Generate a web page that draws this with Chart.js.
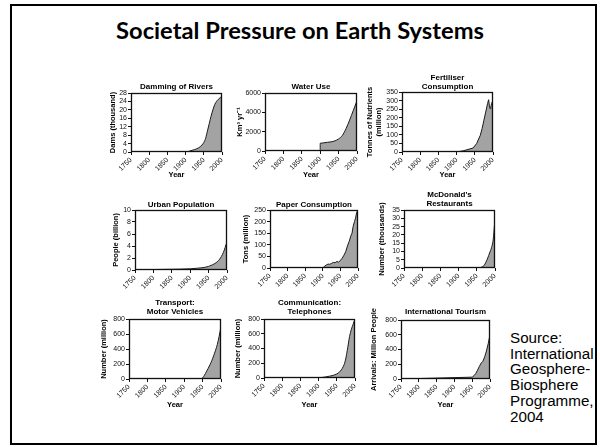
<!DOCTYPE html>
<html><head><meta charset="utf-8">
<script src="https://cdn.jsdelivr.net/npm/chart.js@4.4.1/dist/chart.umd.min.js"></script>
<style>
html,body{margin:0;padding:0;background:#fff;}
body{width:600px;height:447px;position:relative;overflow:hidden;font-family:'Liberation Sans',Arial,sans-serif;}
#frame{position:absolute;left:10px;top:4px;width:587px;height:441px;border:2px solid #000;box-sizing:border-box;}
#title{position:absolute;left:0;width:600px;text-align:center;font-family:Lato,'Open Sans',sans-serif;font-weight:700;color:#000;white-space:nowrap;line-height:1;}
#source{position:absolute;left:510px;top:330px;font-size:15.2px;line-height:15.7px;color:#000;font-family:'Liberation Sans',Arial,sans-serif;}
canvas{position:absolute;}
</style></head><body>
<div id="frame"></div>
<div id="title">Societal Pressure on Earth Systems</div>
<div id="source">Source:<br>International<br>Geosphere-<br>Biosphere<br>Programme,<br>2004</div>
<script>
// ---------- data ----------
const xTickYears = [1750, 1800, 1850, 1900, 1950, 2000];

const dammingYears  = [1750, 1900, 1910, 1920, 1930, 1940, 1950, 1955, 1960, 1965, 1970, 1975, 1980, 1985, 1990, 1995, 2000];
const dammingValues = [0, 0, 0.4, 0.9, 1.5, 2.5, 4.5, 6.5, 10, 13.5, 17, 20, 22.5, 24, 25, 25.8, 26.5];

const waterYears  = [1750, 1900, 1900, 1910, 1920, 1930, 1940, 1950, 1960, 1970, 1980, 1990, 2000];
const waterValues = [0, 0, 800, 850, 900, 950, 1050, 1250, 1600, 2300, 3200, 4200, 5200];

const fertYears  = [1750, 1900, 1920, 1945, 1955, 1965, 1970, 1975, 1980, 1985, 1988, 1990, 1992, 1994, 1996, 1998, 2000];
const fertValues = [0, 0, 8, 23, 49, 97, 136, 185, 233, 282, 305, 272, 253, 262, 282, 292, 263];

const urbanYears  = [1750, 1800, 1850, 1900, 1920, 1940, 1950, 1960, 1970, 1980, 1990, 2000];
const urbanValues = [0.05, 0.08, 0.12, 0.2, 0.3, 0.45, 0.6, 0.85, 1.2, 1.8, 2.9, 4.7];

const paperYears  = [1750, 1900, 1905, 1910, 1915, 1920, 1925, 1930, 1935, 1940, 1945, 1950, 1955, 1960, 1965, 1970, 1975, 1980, 1983, 1986, 1990, 1993, 1996, 2000];
const paperValues = [0, 0, 8, 13, 17, 16, 20, 24, 23, 28, 25, 33, 42, 55, 70, 95, 115, 140, 150, 178, 200, 215, 238, 250];

const mcdYears  = [1750, 1950, 1955, 1960, 1965, 1970, 1975, 1980, 1985, 1990, 1995, 2000];
const mcdValues = [0, 0, 0, 0.2, 0.7, 1.5, 3.5, 6, 9, 12, 17, 30];

const vehicleYears  = [1750, 1945, 1950, 1955, 1960, 1965, 1970, 1975, 1980, 1985, 1990, 1995, 2000];
const vehicleValues = [0, 0, 15, 50, 95, 140, 190, 245, 310, 380, 460, 570, 700];

const phoneYears  = [1750, 1880, 1890, 1900, 1910, 1920, 1930, 1940, 1950, 1955, 1960, 1965, 1970, 1975, 1980, 1985, 1990, 1995, 2000];
const phoneValues = [0, 0, 1, 3, 8, 15, 25, 35, 55, 70, 95, 130, 180, 270, 410, 560, 660, 730, 800];

const tourismYears  = [1750, 1950, 1955, 1960, 1965, 1970, 1975, 1980, 1985, 1990, 1995, 2000];
const tourismValues = [0, 25, 45, 75, 120, 170, 215, 240, 300, 380, 480, 600];

// ---------- panels (layout) ----------
const panels = [
  {title:['Damming of Rivers'], yTitle:'Dams (thousand)', years:dammingYears, values:dammingValues, yMax:28, yStep:4, smooth:true,
   plot:[131,93,222,152], titleY:87, yTitleX:113, yearY:175},
  {title:['Water Use'], yTitle:'Km\u00B3 yr\u207B\u00B9', years:waterYears, values:waterValues, yMax:6000, yStep:2000, smooth:true,
   plot:[265,93,357,151], titleY:87, yTitleX:240, yearY:175},
  {title:['Fertiliser','Consumption'], yTitle:['Tonnes of Nutrients','(million)'], years:fertYears, values:fertValues, yMax:350, yStep:50, smooth:false,
   plot:[402,92,493,152], titleY:78, yTitleX:370, yearY:175},
  {title:['Urban Population'], yTitle:'People (billion)', years:urbanYears, values:urbanValues, yMax:10, yStep:2, smooth:true,
   plot:[135,210,227,270], titleY:205, yTitleX:116, yearY:null},
  {title:['Paper Consumption'], yTitle:'Tons (million)', years:paperYears, values:paperValues, yMax:250, yStep:50, smooth:false,
   plot:[270,210,358,268], titleY:205, yTitleX:246, yearY:null},
  {title:["McDonald's",'Restaurants'], yTitle:'Number (thousands)', years:mcdYears, values:mcdValues, yMax:35, yStep:5, smooth:true,
   plot:[404,210,495,268], titleY:195, yTitleX:382, yearY:null},
  {title:['Transport:','Motor Vehicles'], yTitle:'Number (million)', years:vehicleYears, values:vehicleValues, yMax:800, yStep:200, smooth:true,
   plot:[129,319,221,379], titleY:303, yTitleX:104, yearY:405},
  {title:['Communication:','Telephones'], yTitle:'Number (million)', years:phoneYears, values:phoneValues, yMax:800, yStep:200, smooth:true,
   plot:[264,319,355,378], titleY:303, yTitleX:238, yearY:405},
  {title:['International Tourism'], yTitle:'Arrivals: Million People', years:tourismYears, values:tourismValues, yMax:800, yStep:200, smooth:false,
   plot:[401,320,490,379], titleY:312, yTitleX:374, yearY:405}
];

// ---------- title sizing ----------
(function(){
  const t = document.getElementById('title');
  const c = document.createElement('canvas').getContext('2d');
  c.font = 'bold 24px Lato';
  const w = c.measureText(t.textContent).width;
  const fs = 24 * 368 / w;
  t.style.fontSize = fs + 'px';
  t.style.top = (32 - fs * 0.55) + 'px';
})();

Chart.defaults.font.family = "'Liberation Sans', Arial, sans-serif";
Chart.defaults.color = '#000';

const boxPlugin = {
  id: 'plotBox',
  afterDatasetsDraw(chart) {
    const a = chart.chartArea, ctx = chart.ctx;
    ctx.save();
    ctx.strokeStyle = '#111';
    ctx.lineWidth = 1.3;
    ctx.strokeRect(Math.round(a.left) + 0.5, Math.round(a.top) + 0.5, Math.round(a.right - a.left) - 1, Math.round(a.bottom - a.top) - 1);
    ctx.restore();
  }
};

const TFS = 8, TLH = 9.5;     // panel title font
const AFS = 7.5, ALH = 9.5;   // axis title font
const TICK_FS = 7;
const RIGHT_PAD = 6;

panels.forEach((p, i) => {
  const [L, T, R, B] = p.plot;
  const nT = p.title.length;
  const cTop = Math.round(p.titleY - TLH / 2);
  const cLeft = Math.round(p.yTitleX - ALH / 2);
  const cBottom = p.yearY ? Math.round(p.yearY + ALH / 2) : B + 26;
  const cRight = R + RIGHT_PAD;
  const W = cRight - cLeft, H = cBottom - cTop;
  const yW = L - cLeft, xH = cBottom - B;
  const titlePadBottom = Math.max(0, (T - cTop) - nT * TLH);

  const cv = document.createElement('canvas');
  cv.width = W; cv.height = H;
  cv.style.left = cLeft + 'px'; cv.style.top = cTop + 'px';
  cv.style.width = W + 'px'; cv.style.height = H + 'px';
  document.body.appendChild(cv);

  const pts = p.years.map((yr, k) => ({x: yr, y: p.values[k]}));

  new Chart(cv, {
    type: 'line',
    data: { datasets: [{
      data: pts,
      borderColor: '#1a1a1a',
      borderWidth: 1,
      backgroundColor: '#a3a3a3',
      fill: 'origin',
      pointRadius: 0,
      cubicInterpolationMode: p.smooth ? 'monotone' : 'default',
      tension: 0
    }]},
    options: {
      responsive: false,
      animation: false,
      devicePixelRatio: 1,
      layout: { padding: { left: 0, top: 0, right: RIGHT_PAD, bottom: 0 } },
      plugins: {
        legend: { display: false },
        tooltip: { enabled: false },
        title: {
          display: true, text: p.title, fullSize: false,
          font: { size: TFS, weight: 'bold', lineHeight: TLH / TFS },
          padding: { top: 0, bottom: titlePadBottom }, color: '#000'
        }
      },
      scales: {
        x: {
          type: 'linear', min: 1750, max: 2000,
          afterBuildTicks: s => { s.ticks = xTickYears.map(v => ({value: v})); },
          afterFit: s => { s.height = xH; s.paddingLeft = 0; s.paddingRight = 0; },
          ticks: { autoSkip: false, minRotation: 45, maxRotation: 45, padding: 1,
                   font: { size: TICK_FS }, color: '#111', callback: v => String(v) },
          grid: { display: true, drawOnChartArea: false, drawTicks: true, tickLength: 3, color: '#111' },
          border: { display: false },
          title: { display: !!p.yearY, text: 'Year', font: { size: AFS, weight: 'bold', lineHeight: ALH / AFS }, padding: 0, color: '#000' }
        },
        y: {
          min: 0, max: p.yMax,
          afterFit: s => { s.width = yW; s.paddingTop = 0; s.paddingBottom = 0; },
          ticks: { stepSize: p.yStep, autoSkip: false, padding: 1, font: { size: TICK_FS }, color: '#111', callback: v => String(v) },
          grid: { display: true, drawOnChartArea: false, drawTicks: true, tickLength: 3, color: '#111' },
          border: { display: false },
          title: { display: true, text: p.yTitle, font: { size: AFS, weight: 'bold', lineHeight: ALH / AFS }, padding: 0, color: '#000' }
        }
      }
    },
    plugins: [boxPlugin]
  });
});
</script>
</body></html>
